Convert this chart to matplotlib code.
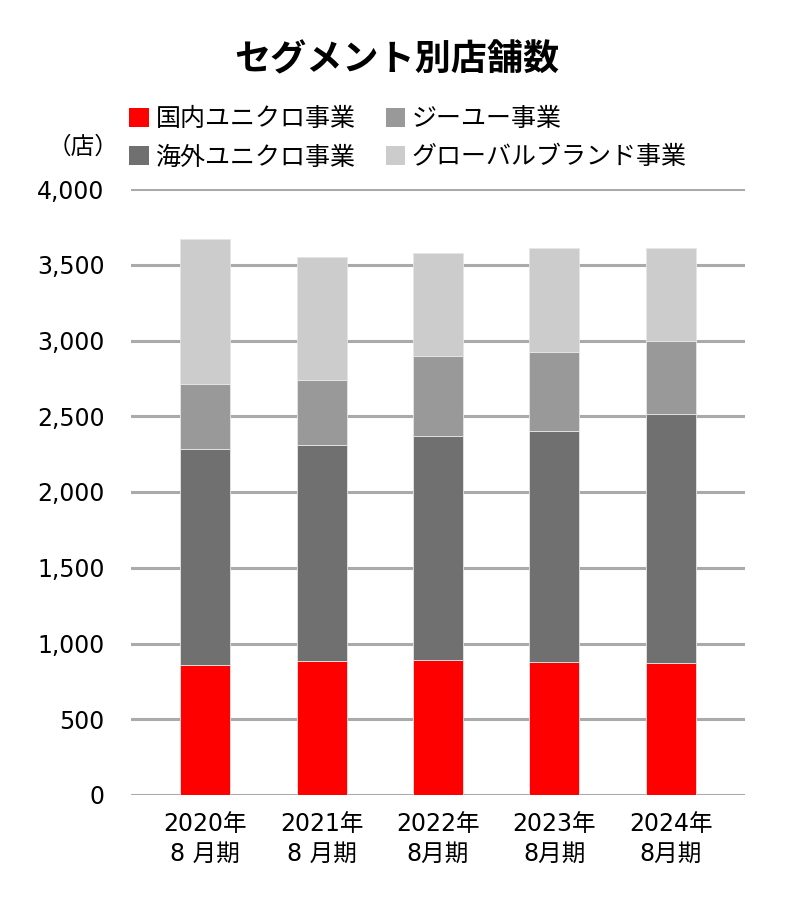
import matplotlib
matplotlib.use("Agg")
import matplotlib.pyplot as plt
from matplotlib.patches import Patch
import numpy as np

plt.rcParams['font.family'] = ['Noto Sans CJK JP', 'DejaVu Sans']

categories = ["2020年\n8 月期", "2021年\n8 月期", "2022年\n8月期", "2023年\n8月期", "2024年\n8月期"]
domestic = [858, 886, 889, 878, 869]      # 国内ユニクロ事業
overseas = [1426, 1426, 1483, 1525, 1644]  # 海外ユニクロ事業
gu = [429, 427, 524, 521, 482]             # ジーユー事業
global_brands = [955, 810, 684, 685, 614]  # グローバルブランド事業

series_names = ["国内ユニクロ事業", "海外ユニクロ事業", "ジーユー事業", "グローバルブランド事業"]
colors = ["#ff0000", "#707070", "#999999", "#cccccc"]
yticks = [0, 500, 1000, 1500, 2000, 2500, 3000, 3500, 4000]

W, H = 792, 908
fig = plt.figure(figsize=(W / 100, H / 100), dpi=100)
ax = fig.add_axes([131 / W, 1 - 795 / H, (745 - 131) / W, (795 - 189) / H])

x = np.arange(len(categories))
bottom = np.zeros(len(categories))
for vals, c in zip([domestic, overseas, gu, global_brands], colors):
    ax.bar(x, vals, width=0.43, bottom=bottom, color=c, edgecolor="#e6e6e6",
           linewidth=0.6, zorder=3)
    bottom += np.array(vals)

num_family = ['DejaVu Sans', 'Noto Sans CJK JP']
ax.set_xlim(-0.64, 4.64)
ax.set_ylim(0, 4000)
ax.set_yticks(yticks)
ax.set_yticklabels([f"{v:,}" for v in yticks], fontsize=17, family=num_family)
ax.set_xticks(x)
ax.set_xticklabels(categories, fontsize=17, linespacing=1.3, family=num_family)
ax.tick_params(axis='both', length=0, colors='black')
ax.tick_params(axis='y', pad=19)
ax.tick_params(axis='x', pad=12)
for s in ax.spines.values():
    s.set_visible(False)
ax.yaxis.grid(True, color="#aaaaaa", linewidth=2.2, zorder=0)
ax.set_axisbelow(True)

fig.text(397 / W, 1 - 60 / H, "セグメント別店舗数", ha='center', va='center',
         fontsize=26, fontweight='bold')
fig.text(83 / W, 1 - 147 / H, "（店）", ha='center', va='center', fontsize=17)

handles = [Patch(facecolor=c, edgecolor='none') for c in colors]
leg = fig.legend(handles, series_names, ncol=2, loc='upper left',
                 bbox_to_anchor=(129 / W, 1 - 106 / H), frameon=False,
                 fontsize=18, handlelength=0.78, handleheight=0.78,
                 handletextpad=0.28, columnspacing=1.2, labelspacing=0.5,
                 borderpad=0, borderaxespad=0)

fig.savefig("out.png", dpi=100)
